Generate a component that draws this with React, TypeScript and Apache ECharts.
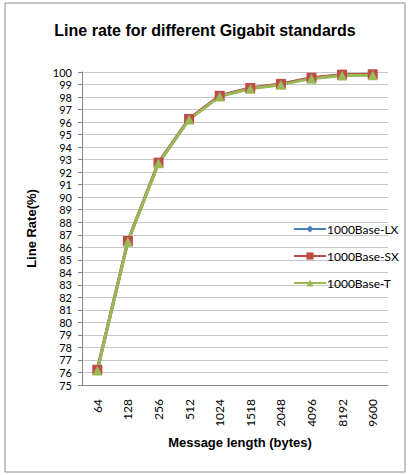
import React, { useEffect, useRef } from "react";
import * as echarts from "echarts";

const categories = ["64", "128", "256", "512", "1024", "1518", "2048", "4096", "8192", "9600"];
const lxValues = [76.19, 86.49, 92.75, 96.24, 98.08, 98.70, 99.03, 99.51, 99.76, 99.79];
const sxValues = [76.22, 86.50, 92.76, 96.25, 98.10, 98.72, 99.05, 99.54, 99.79, 99.82];
const tValues = [76.15, 86.45, 92.71, 96.20, 98.05, 98.66, 98.99, 99.47, 99.72, 99.74];
const seriesNames = ["1000Base-LX", "1000Base-SX", "1000Base-T"];

export default function App() {
  const ref = useRef<HTMLDivElement>(null);
  useEffect(() => {
    if (!ref.current) return;
    const chart = echarts.init(ref.current, null, { renderer: "svg" });
    const labelFont = "Lato";
    chart.setOption({
      animation: false,
      backgroundColor: "#ffffff",
      title: {
        text: "Line rate for different Gigabit standards",
        left: "center",
        top: 17,
        textStyle: { fontFamily: "Liberation Sans", fontSize: 16, fontWeight: "bold", color: "#000" },
      },
      graphic: [
        {
          type: "rect",
          shape: { x: 5, y: 3, width: 400, height: 469 },
          style: { fill: "none", stroke: "#8c8c8c", lineWidth: 1 },
          silent: true,
        },
      ],
      legend: {
        orient: "vertical",
        left: 288,
        top: 218,
        itemGap: 15,
        itemWidth: 32,
        itemHeight: 9,
        data: seriesNames,
        textStyle: { fontFamily: labelFont, fontSize: 12, color: "#000", padding: [0, 0, 0, -4] },
      },
      grid: { left: 82, right: 22, top: 72, bottom: 90 },
      xAxis: {
        type: "category",
        data: categories,
        boundaryGap: true,
        name: "Message length (bytes)",
        nameLocation: "middle",
        nameGap: 51,
        nameTextStyle: { fontFamily: "Liberation Sans", fontSize: 13, fontWeight: "bold", color: "#000", padding: [0, 0, 0, 10] },
        axisLine: { lineStyle: { color: "#868686", width: 1 } },
        axisTick: { show: false },
        axisLabel: { rotate: 90, margin: 14, fontFamily: labelFont, fontSize: 12, color: "#000" },
        splitLine: { show: false },
      },
      yAxis: {
        type: "value",
        min: 75,
        max: 100,
        interval: 1,
        name: "Line Rate(%)",
        nameLocation: "middle",
        nameGap: 44,
        nameTextStyle: { fontFamily: "Liberation Sans", fontSize: 13, fontWeight: "bold", color: "#000" },
        axisLine: { show: true, lineStyle: { color: "#868686", width: 1 } },
        axisTick: { show: true, length: 4, lineStyle: { color: "#868686" } },
        axisLabel: { margin: 10, fontFamily: labelFont, fontSize: 11, lineHeight: 11, color: "#000" },
        splitLine: { show: true, lineStyle: { color: "#c6c6c6", width: 1 } },
      },
      series: [
        {
          name: seriesNames[0],
          type: "line",
          data: lxValues,
          symbol: "diamond",
          symbolSize: 9,
          lineStyle: { color: "#4a7ebb", width: 3 },
          itemStyle: { color: "#4a7ebb" },
        },
        {
          name: seriesNames[1],
          type: "line",
          data: sxValues,
          symbol: "rect",
          symbolSize: 10,
          lineStyle: { color: "#be4b48", width: 3 },
          itemStyle: { color: "#be4b48" },
        },
        {
          name: seriesNames[2],
          type: "line",
          data: tValues,
          symbol: "triangle",
          symbolSize: 10,
          lineStyle: { color: "#98b954", width: 3 },
          itemStyle: { color: "#98b954" },
        },
      ],
    });
    return () => chart.dispose();
  }, []);
  return (
    <div
      ref={ref}
      style={{ position: "fixed", left: 0, top: 0, width: 410, height: 475 }}
    />
  );
}
